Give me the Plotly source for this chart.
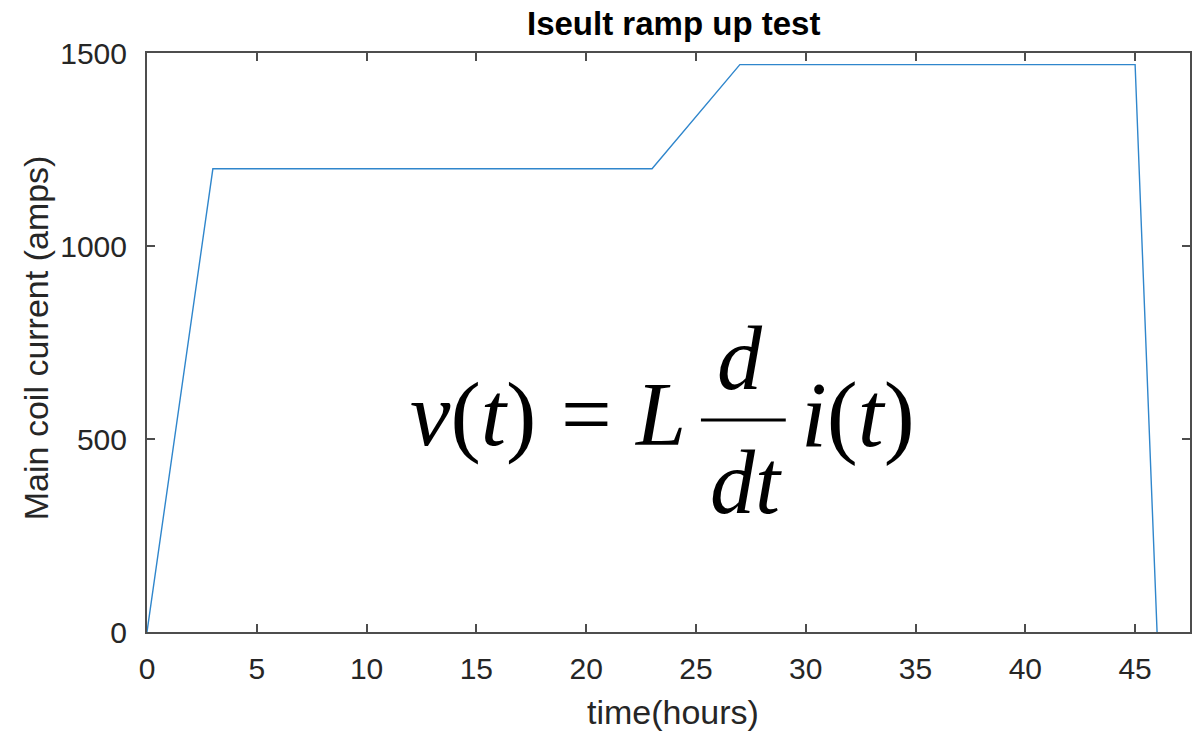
import plotly.graph_objects as go

# Data
time_hours = [0, 3, 23, 27, 45, 46]
current_amps = [0, 1200, 1200, 1470, 1470, 0]
x_ticks = [0, 5, 10, 15, 20, 25, 30, 35, 40, 45]
y_ticks = [0, 500, 1000, 1500]

W, H = 1192, 734
L, R, T, B = 147, 0, 53, 102
PW, PH = W - L - R, H - T - B

def px(xp):
    return (xp - L) / PW

def py(yp):
    return (H - B - yp) / PH

fig = go.Figure()
fig.add_trace(go.Scatter(x=time_hours, y=current_amps, mode="lines",
                         line=dict(color="#2f86cc", width=1.4), showlegend=False))

axis_col = "#4d4d4d"
tick_font = dict(family="Liberation Sans, Arial", size=30, color="#262626")
fig.update_xaxes(range=[0, 47.5], tickvals=x_ticks, ticks="inside", ticklen=8,
                 tickcolor=axis_col, tickwidth=1.5, showline=True, linecolor=axis_col,
                 linewidth=2, mirror="ticks", showgrid=False, zeroline=False,
                 tickfont=tick_font, ticklabelstandoff=9)
fig.update_yaxes(range=[0, 1500], tickvals=y_ticks, ticks="inside", ticklen=8,
                 tickcolor=axis_col, tickwidth=1.5, showline=True, linecolor=axis_col,
                 linewidth=2, mirror="ticks", showgrid=False, zeroline=False,
                 tickfont=tick_font, ticklabelstandoff=12)

ann = []
def add(text, x, y, size, family="Liberation Sans, Arial", color="#262626", angle=0, xanchor="center", yanchor="middle"):
    ann.append(dict(text=text, x=px(x), y=py(y), xref="paper", yref="paper",
                    showarrow=False, font=dict(family=family, size=size, color=color),
                    textangle=angle, xanchor=xanchor, yanchor=yanchor))

add("<b>Iseult ramp up test</b>", 675, 24, 33, color="#000000")
add("time(hours)", 674, 712, 34)
add("Main coil current (amps)", 36, 338, 34, angle=-90)

serif = "Liberation Serif, Times New Roman"
eq_col = "#000000"
add("<i>v</i>(<i>t</i>)", 408, 414, 91, family=serif, color=eq_col, xanchor="left")
add("=", 587, 414, 90, family=serif, color=eq_col)
add("<i>L</i>", 633, 414, 90, family=serif, color=eq_col, xanchor="left")
add("<i>d</i>", 741, 358, 90, family=serif, color=eq_col)
add("<i>dt</i>", 747, 482, 90, family=serif, color=eq_col)
add("<i>i</i>(<i>t</i>)", 800, 414, 93, family=serif, color=eq_col, xanchor="left")
fig.update_layout(annotations=ann)

fig.add_shape(type="line", xref="paper", yref="paper", x0=px(702), x1=px(787),
              y0=py(420), y1=py(420), line=dict(color=eq_col, width=3))

fig.update_layout(width=W, height=H, margin=dict(l=L, r=R, t=T, b=B),
                  paper_bgcolor="white", plot_bgcolor="white")
fig.write_html("out.html")
